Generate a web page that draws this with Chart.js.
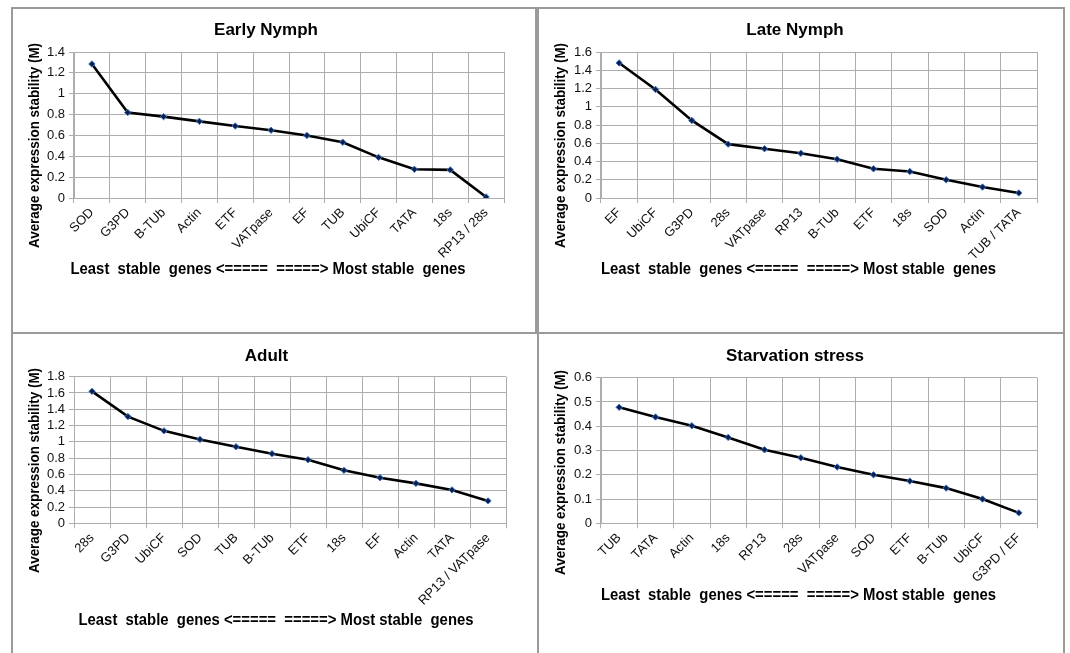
<!DOCTYPE html>
<html>
<head>
<meta charset="utf-8">
<script src="https://cdn.jsdelivr.net/npm/chart.js@4.4.1/dist/chart.umd.min.js"></script>
<style>
  html, body { margin: 0; padding: 0; background: #fff; }
  #page { position: relative; width: 1070px; height: 653px; overflow: hidden; background: #fff; }
  canvas { position: absolute; }
  .frame { position: absolute; border: 2px solid #9a9a9a; box-sizing: border-box; pointer-events: none; }
</style>
</head>
<body>
<div id="page">
  <canvas id="c1"></canvas>
  <canvas id="c2"></canvas>
  <canvas id="c3"></canvas>
  <canvas id="c4"></canvas>
  <div class="frame" style="left:11px;top:7px;width:526px;height:327px;"></div>
  <div class="frame" style="left:537px;top:7px;width:528px;height:327px;"></div>
  <div class="frame" style="left:11px;top:332px;width:528px;height:340px;"></div>
  <div class="frame" style="left:537px;top:332px;width:528px;height:340px;"></div>
</div>
<script>
// ---- data ----
const titles = ['Early Nymph', 'Late Nymph', 'Adult', 'Starvation stress'];

const catsEarly = ['SOD','G3PD','B-TUb','Actin','ETF','VATpase','EF','TUB','UbiCF','TATA','18s','RP13 / 28s'];
const valsEarly = [1.285, 0.82, 0.78, 0.735, 0.69, 0.65, 0.60, 0.535, 0.39, 0.275, 0.27, 0.01];

const catsLate = ['EF','UbiCF','G3PD','28s','VATpase','RP13','B-TUb','ETF','18s','SOD','Actin','TUB / TATA'];
const valsLate = [1.48, 1.19, 0.85, 0.59, 0.54, 0.49, 0.425, 0.32, 0.29, 0.20, 0.12, 0.055];

const catsAdult = ['28s','G3PD','UbiCF','SOD','TUB','B-TUb','ETF','18s','EF','Actin','TATA','RP13 / VATpase'];
const valsAdult = [1.62, 1.31, 1.135, 1.03, 0.94, 0.855, 0.78, 0.65, 0.56, 0.49, 0.41, 0.275];

const catsStarv = ['TUB','TATA','Actin','18s','RP13','28s','VATpase','SOD','ETF','B-TUb','UbiCF','G3PD / EF'];
const valsStarv = [0.478, 0.438, 0.402, 0.354, 0.303, 0.27, 0.232, 0.20, 0.174, 0.145, 0.10, 0.043];

const yMax  = [1.4, 1.6, 1.8, 0.6];
const yStep = [0.2, 0.2, 0.2, 0.1];

const yAxisTitle = 'Average expression stability (M)';
const xAxisTitle = 'Least  stable  genes <=====  =====> Most stable  genes';

// ---- layout ----
const FONT = '"Liberation Sans", Arial, Helvetica, sans-serif';
Chart.defaults.font.family = FONT;

const panels = [
  { id: 'c1', left: 12,  top: 8,   w: 524, h: 325, padL: 16, padR: 32, padB: 35,   yW: 46, titleTop: 12.5, titleBot: 11.1,
    yT: { x: 23, y: 137.5 }, xT: { x: 256, y: 261.3 } },
  { id: 'c2', left: 538, top: 8,   w: 526, h: 325, padL: 15, padR: 27, padB: 35,   yW: 48, titleTop: 12.5, titleBot: 11.1,
    yT: { x: 23, y: 137.5 }, xT: { x: 260.5, y: 261.3 } },
  { id: 'c3', left: 12,  top: 333, w: 526, h: 320, padL: 15, padR: 32, padB: 29.7, yW: 47, titleTop: 13.5, titleBot: 9.8,
    yT: { x: 23, y: 137.5 }, xT: { x: 264, y: 287.7 } },
  { id: 'c4', left: 538, top: 333, w: 526, h: 320, padL: 15, padR: 27, padB: 29.7, yW: 48, titleTop: 13.5, titleBot: 10.8,
    yT: { x: 23, y: 139.5 }, xT: { x: 260.5, y: 262.7 } }
];

const series = [
  [catsEarly, valsEarly],
  [catsLate, valsLate],
  [catsAdult, valsAdult],
  [catsStarv, valsStarv]
];

const axisTitlePlugin = {
  id: 'axisTitles',
  afterDraw(chart, args, opts) {
    const ctx = chart.ctx;
    ctx.save();
    ctx.fillStyle = '#000';
    ctx.textAlign = 'center';
    ctx.textBaseline = 'middle';
    ctx.font = 'bold 16px ' + FONT;
    ctx.fillText(opts.xText, opts.xPos.x, opts.xPos.y, 395);
    ctx.translate(opts.yPos.x, opts.yPos.y);
    ctx.rotate(-Math.PI / 2);
    ctx.font = 'bold 14.5px ' + FONT;
    ctx.fillText(opts.yText, 0, 0, 205);
    ctx.restore();
  }
};

const GRID = '#adadad';

panels.forEach((p, i) => {
  const cv = document.getElementById(p.id);
  cv.width = p.w; cv.height = p.h;
  cv.style.left = p.left + 'px'; cv.style.top = p.top + 'px';
  cv.style.width = p.w + 'px'; cv.style.height = p.h + 'px';
  const [cats, vals] = series[i];
  new Chart(cv, {
    type: 'line',
    data: {
      labels: cats,
      datasets: [{
        data: vals,
        borderColor: '#000',
        borderWidth: 2.6,
        tension: 0,
        pointStyle: 'rectRot',
        pointRadius: 3.2,
        pointBackgroundColor: '#0b1f4f',
        pointBorderColor: '#3f74c8',
        pointBorderWidth: 1
      }]
    },
    options: {
      responsive: false,
      animation: false,
      events: [],
      layout: { padding: { left: p.padL, right: p.padR, top: 0, bottom: p.padB } },
      plugins: {
        legend: { display: false },
        tooltip: { enabled: false },
        title: {
          display: true,
          text: titles[i],
          color: '#000',
          font: { size: 17, weight: 'bold', lineHeight: 1.2 },
          padding: { top: p.titleTop, bottom: p.titleBot }
        },
        axisTitles: { xText: xAxisTitle, yText: yAxisTitle, xPos: p.xT, yPos: p.yT }
      },
      scales: {
        x: {
          type: 'category',
          offset: true,
          afterFit: s => { s.height = 100; },
          grid: { offset: true, color: GRID, lineWidth: 1, tickLength: 5, drawTicks: true, tickColor: GRID },
          border: { display: true, color: GRID, width: 1 },
          ticks: { autoSkip: false, maxRotation: 45, minRotation: 45, color: '#111', padding: 2, font: { size: 13 } }
        },
        y: {
          min: 0,
          max: yMax[i],
          afterFit: s => { s.width = p.yW; },
          grid: { color: GRID, lineWidth: 1, tickLength: 5, drawTicks: true, tickColor: GRID },
          border: { display: true, color: GRID, width: 1 },
          ticks: {
            autoSkip: false,
            stepSize: yStep[i],
            color: '#111',
            padding: 4,
            font: { size: 13 },
            callback: v => String(Math.round(v * 10) / 10)
          }
        }
      }
    },
    plugins: [axisTitlePlugin]
  });
});
</script>
</body>
</html>
